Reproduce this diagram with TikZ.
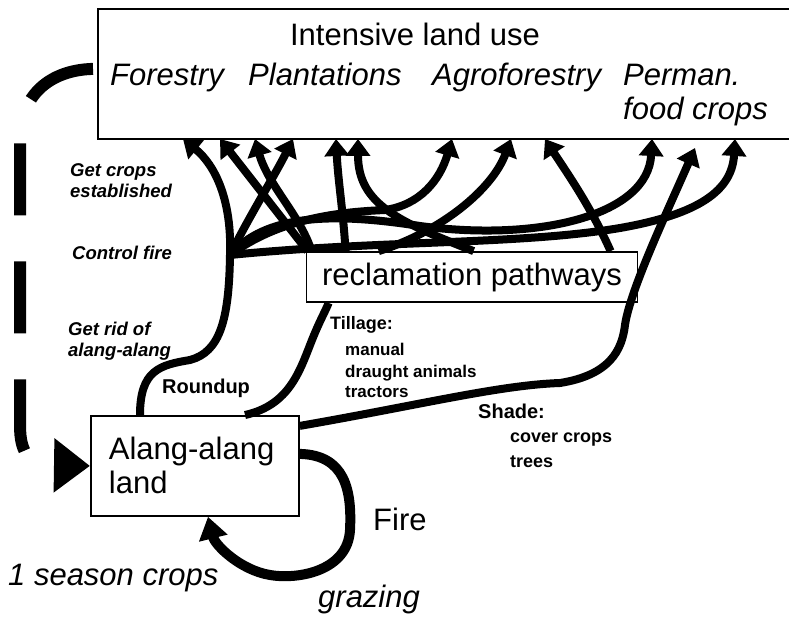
\documentclass[tikz,border=0pt]{standalone}
\usepackage{fontspec}
\setmainfont{Liberation Sans}
\usepackage{tikz}
\usetikzlibrary{
    positioning,
    arrows.meta
}

\begin{document}
\begin{tikzpicture}[x=1pt, y=-1pt,
    boxstyle/.style={draw, line width=1.8pt},
    bigtext/.style={font=\fontsize{31}{34}\selectfont, inner sep=0pt},
    landuse/.style={font=\fontsize{31}{34}\selectfont\itshape, anchor=base west, inner sep=0pt},
    note/.style={font=\fontsize{18.5}{21}\selectfont\bfseries\itshape, anchor=base west, inner sep=0pt},
    howto/.style={font=\fontsize{17}{20}\selectfont\bfseries, anchor=base west, inner sep=0pt},
    flow/.style={line width=8pt, -{Triangle[length=17pt,width=24pt]}},
    pathline/.style={line width=8pt}]
    \useasboundingbox (0,0) rectangle (789,617);

    % boxes
    \node[boxstyle, anchor=north west, minimum width=695pt, minimum height=130pt] (top) at (97,8) {};
    \node[boxstyle, font=\fontsize{31}{34}\selectfont, minimum width=331pt, minimum height=50pt] (recl) at (472,277) {reclamation pathways};
    \node[boxstyle, anchor=north west, font=\fontsize{31}{34}\selectfont, align=left,
          text width=172pt, inner xsep=18pt, minimum height=100pt] (alang) at (90,415) {Alang-alang\\land};

    % texts in the top box
    \node[bigtext, anchor=base] (title) at (415,46) {Intensive land use};
    \node[landuse] (forestry) at (110,86) {Forestry};
    \node[landuse] (plant) at (248,86) {Plantations};
    \node[landuse] (agro) at (432,86) {Agroforestry};
    \node[landuse] (perman) at (623,86) {Perman.};
    \node[landuse] (food) at (623,120) {food crops};

    % arrow ends on the top box
    \coordinate (hub) at (230,255);
    \coordinate (t1) at (183,139);
    \coordinate (t2) at (220,139);
    \coordinate (t3) at (255,139);
    \coordinate (t4) at (293,139);
    \coordinate (t5) at (336,139);
    \coordinate (t6) at (358,139);
    \coordinate (t7) at (452,139);
    \coordinate (t8) at (511,139);
    \coordinate (t9) at (545,139);
    \coordinate (t10) at (652,139);
    \coordinate (t11) at (695,148);
    \coordinate (t12) at (735,139);

    % left side notes
    \node[note] (getcrops) at (70,177) {Get crops};
    \node[note] (established) at (70,198) {established};
    \node[note] (controlfire) at (72,260) {Control fire};
    \node[note] (getrid) at (68,335) {Get rid of};
    \node[note] (ridalang) at (68,356) {alang-alang};

    % methods
    \node[howto, font=\fontsize{20}{22}\selectfont\bfseries] (roundup) at (162,393) {Roundup};
    \node[howto, font=\fontsize{18}{20}\selectfont\bfseries] (tillage) at (330,330) {Tillage:};
    \node[howto] (manual) at (345,355) {manual};
    \node[howto] (draught) at (345,377) {draught animals};
    \node[howto] (tractors) at (345,397) {tractors};
    \node[howto, font=\fontsize{20}{22}\selectfont\bfseries] (shade) at (478,418) {Shade:};
    \node[howto, font=\fontsize{18}{20}\selectfont\bfseries] (cover) at (510,442) {cover crops};
    \node[howto, font=\fontsize{18}{20}\selectfont\bfseries] (trees) at (510,467) {trees};

    \node[bigtext, anchor=base west] (fire) at (373,530) {Fire};
    \node[landuse] (season) at (8,585) {1 season crops};
    \node[landuse] (grazing) at (318,607) {grazing};

    % roundup pathway
    \draw[pathline] ([xshift=50pt]alang.north west) .. controls (140,370) and (160,365) .. (190,360)
        .. controls (220,352) and (229,320) .. (hub);
    \draw[flow] (hub) .. controls (232,200) and (215,165) .. (t1);
    \draw[flow] (hub) .. controls (250,215) and (275,175) .. (t4);
    \draw[flow] (hub) .. controls (280,218) and (340,212) .. (385,210) .. controls (420,205) and (440,180) .. (t7);
    \draw[flow] (hub) .. controls (265,215) and (330,212) .. (420,226) .. controls (540,242) and (648,215) .. (t10);
    \draw[flow] (hub) .. controls (380,240) and (520,245) .. (620,228) .. controls (700,214) and (732,190) .. (t12);

    % tillage pathway
    \draw[pathline] ([xshift=155pt]alang.north west) .. controls (290,405) and (300,370) .. (312,340)
        .. controls (320,320) and (326,310) .. ([xshift=23pt]recl.south west);
    \draw[flow] ([xshift=2pt]recl.north west) -- (t2);
    \draw[flow] ([xshift=6pt]recl.north west) .. controls (300,215) and (268,185) .. (t3);
    \draw[flow] ([xshift=40pt]recl.north west) .. controls (343,210) and (338,180) .. (t5);
    \draw[flow] ([xshift=168pt]recl.north west) .. controls (400,222) and (358,205) .. (t6);
    \draw[flow] ([xshift=73pt]recl.north west) .. controls (440,232) and (492,190) .. (t8);
    \draw[flow] ([xshift=305pt]recl.north west) .. controls (590,205) and (565,170) .. (t9);

    % shade pathway
    \draw[flow] ([yshift=40pt]alang.east) .. controls (420,405) and (500,385) .. (560,383)
        .. controls (610,375) and (622,350) .. (625,325) .. controls (630,290) and (668,210) .. (t11);

    % fire and grazing keep it alang-alang
    \draw[line width=10pt, -{Triangle[length=22pt,width=28pt]}] ([yshift=12pt]alang.east)
        .. controls (345,455) and (352,490) .. (350,530) .. controls (348,570) and (300,580) .. (270,575)
        .. controls (240,570) and (215,545) .. ([xshift=118pt]alang.south west);

    % back with 1 season crops
    \draw[line width=12pt, dash pattern=on 72pt off 46pt, -{Triangle[length=36pt,width=52pt]}]
        ([xshift=-4pt,yshift=5pt]top.west) .. controls (50,70) and (20,95) .. (20,140) -- (20,425)
        .. controls (20,455) and (30,465) .. (alang.west);
\end{tikzpicture}
\end{document}
